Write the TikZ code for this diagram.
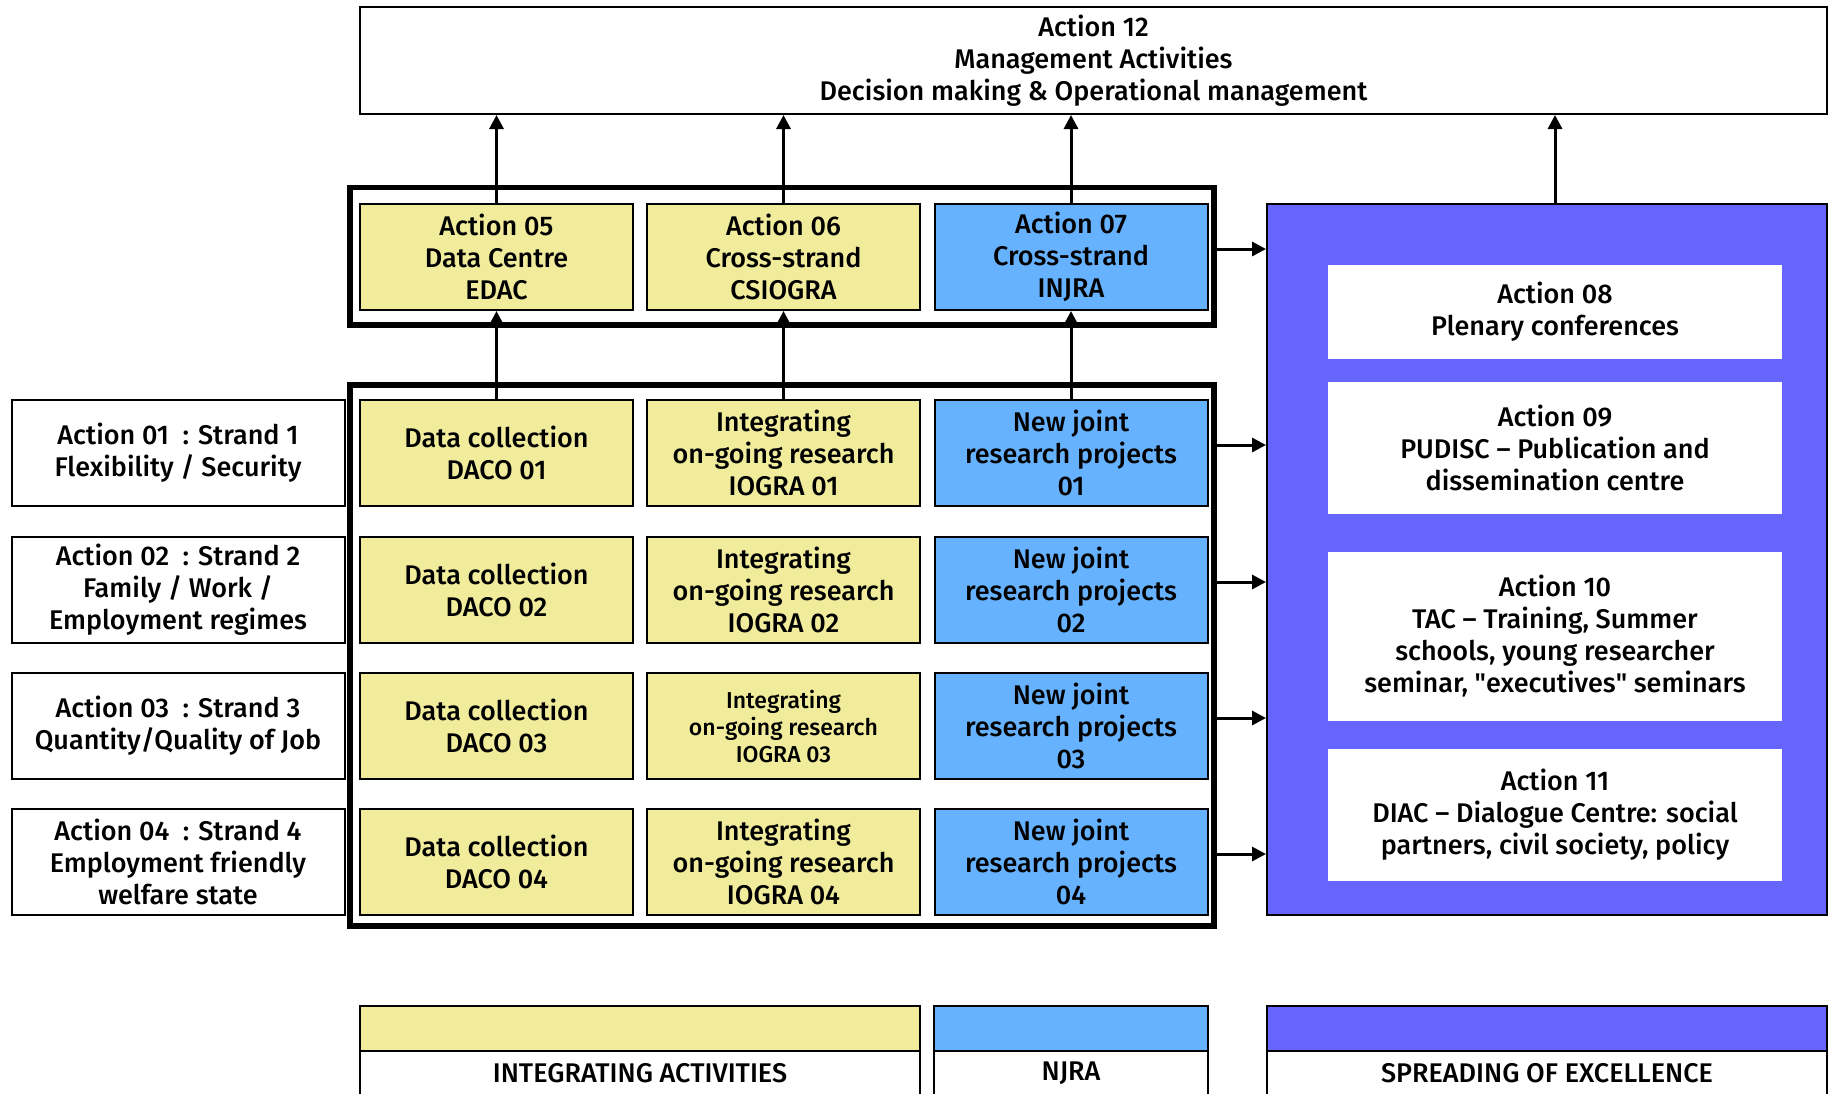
\documentclass[tikz,border=0pt]{standalone}
\usepackage{fontspec}
\setmainfont{Fira Sans}[UprightFont=* Medium]
\usetikzlibrary{arrows.meta}
\definecolor{iayellow}{RGB}{240,236,156}
\definecolor{njblue}{RGB}{102,178,255}
\definecolor{soepurple}{RGB}{102,102,255}
\newcommand\straightdq{\XeTeXglyph\XeTeXcharglyph"22\relax}

\begin{document}
\begin{tikzpicture}[x=1pt, y=-1pt,
    box/.style={draw, line width=2pt, align=center, inner sep=0pt},
    sz/.style 2 args={minimum width=#1pt, minimum height=#2pt},
    frame/.style={draw, line width=5.5pt, inner sep=0pt},
    up/.style={-{Triangle[length=14pt,width=14pt]}, line width=3pt},
    font=\fontsize{27}{32}\selectfont]
            \useasboundingbox (0,0) rectangle (1833,1093);

            \node[box, sz={1467}{107}] (mgmt) at (1093.5,60.5) {Action 12\\Management Activities\\Decision making \& Operational management};

            \node[frame, sz={864}{137.5}] (outerA) at (782,256) {};
            \node[frame, sz={864}{541}] (outerB) at (782,655.5) {};

            \node[box, fill=iayellow, sz={273}{106}] (act05) at (496.5,257) {Action 05\\Data Centre\\EDAC};
            \node[box, fill=iayellow, sz={273}{106}] (act06) at (783.5,257) {Action 06\\Cross-strand\\CSIOGRA};
            \node[box, fill=njblue, sz={273}{106}] (act07) at (1071,257) {Action 07\\Cross-strand\\INJRA};

            \node[box, sz={333}{106}] (str1) at (178,453) {Action 01 \ : Strand 1\\Flexibility / Security};
            \node[box, sz={333}{106}] (str2) at (178,590) {Action 02 \ : Strand 2\\Family / Work /\\Employment regimes};
            \node[box, sz={333}{106}] (str3) at (178,726) {Action 03 \ : Strand 3\\Quantity/Quality of Job};
            \node[box, sz={333}{106}] (str4) at (178,862) {Action 04 \ : Strand 4\\Employment friendly\\welfare state};

            \node[box, fill=iayellow, sz={273}{106}] (daco1) at (496.5,453) {Data collection\\DACO 01};
            \node[box, fill=iayellow, sz={273}{106}] (daco2) at (496.5,590) {Data collection\\DACO 02};
            \node[box, fill=iayellow, sz={273}{106}] (daco3) at (496.5,726) {Data collection\\DACO 03};
            \node[box, fill=iayellow, sz={273}{106}] (daco4) at (496.5,862) {Data collection\\DACO 04};

            \node[box, fill=iayellow, sz={273}{106}] (iogra1) at (783.5,453) {Integrating\\on-going research\\IOGRA 01};
            \node[box, fill=iayellow, sz={273}{106}] (iogra2) at (783.5,590) {Integrating\\on-going research\\IOGRA 02};
            \node[box, fill=iayellow, sz={273}{106}, font=\fontsize{23}{27}\selectfont] (iogra3) at (783.5,726) {Integrating\\on-going research\\IOGRA 03};
            \node[box, fill=iayellow, sz={273}{106}] (iogra4) at (783.5,862) {Integrating\\on-going research\\IOGRA 04};

            \node[box, fill=njblue, sz={273}{106}] (njra1) at (1071,453) {New joint\\research projects\\01};
            \node[box, fill=njblue, sz={273}{106}] (njra2) at (1071,590) {New joint\\research projects\\02};
            \node[box, fill=njblue, sz={273}{106}] (njra3) at (1071,726) {New joint\\research projects\\03};
            \node[box, fill=njblue, sz={273}{106}] (njra4) at (1071,862) {New joint\\research projects\\04};

            \node[box, fill=soepurple, sz={560}{711.5}] (spread) at (1547,559.5) {};
            \node[fill=white, align=center, inner sep=0pt, sz={454}{94}] (act08) at (1555,312) {Action 08\\Plenary conferences};
            \node[fill=white, align=center, inner sep=0pt, sz={454}{132}] (act09) at (1555,448) {Action 09\\PUDISC -- Publication and\\dissemination centre};
            \node[fill=white, align=center, inner sep=0pt, sz={454}{169}] (act10) at (1555,636.5) {Action 10\\TAC -- Training, Summer\\schools, young researcher\\seminar, \straightdq executives\straightdq{} seminars};
            \node[fill=white, align=center, inner sep=0pt, sz={454}{132}] (act11) at (1555,815) {Action 11\\DIAC -- Dialogue Centre: social\\partners, civil society, policy};

            \draw[up] (act05) -- (act05 |- mgmt.south);
            \draw[up] (act06) -- (act06 |- mgmt.south);
            \draw[up] (act07) -- (act07 |- mgmt.south);
            \draw[up] (act08 |- spread.north) -- (act08 |- mgmt.south);

            \draw[up] (daco1) -- (act05);
            \draw[up] (iogra1) -- (act06);
            \draw[up] (njra1) -- (act07);

            \draw[up] ([yshift=8pt]act07.east -| outerA.east) -- ([yshift=8pt]act07.east -| spread.west);
            \draw[up] ([yshift=8pt]njra1.east -| outerB.east) -- ([yshift=8pt]njra1.east -| spread.west);
            \draw[up] ([yshift=8pt]njra2.east -| outerB.east) -- ([yshift=8pt]njra2.east -| spread.west);
            \draw[up] ([yshift=8pt]njra3.east -| outerB.east) -- ([yshift=8pt]njra3.east -| spread.west);
            \draw[up] ([yshift=8pt]njra4.east -| outerB.east) -- ([yshift=8pt]njra4.east -| spread.west);

            \node[box, fill=iayellow, sz={560}{45}] (iabar) at (640,1028) {};
            \node[box, sz={560}{45}] (ialab) at (640,1073) {INTEGRATING ACTIVITIES};
            \node[box, fill=njblue, sz={274}{45}] (njbar) at (1071,1028) {};
            \node[box, sz={274}{45}] (njlab) at (1071,1073) {NJRA};
            \node[box, fill=soepurple, sz={560}{45}] (soebar) at (1547,1028) {};
            \node[box, sz={560}{45}] (soelab) at (1547,1073) {SPREADING OF EXCELLENCE};
        \end{tikzpicture}
\end{document}
